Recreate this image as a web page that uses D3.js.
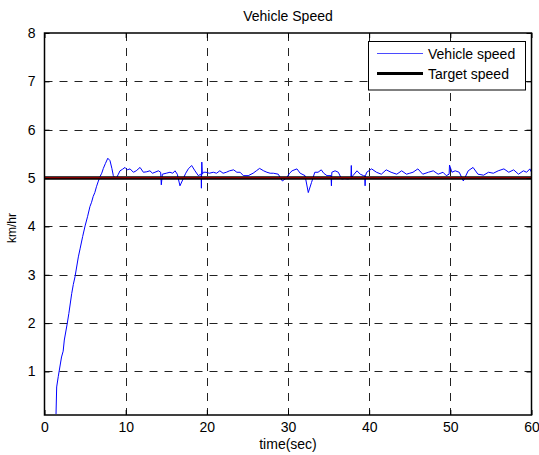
<!DOCTYPE html>
<html>
<head>
<meta charset="utf-8">
<script src="https://cdn.jsdelivr.net/npm/d3@7"></script>
<style>
  body { margin: 0; background: #fff; }
  svg { display: block; font-family: "Liberation Sans", Arial, sans-serif; }
</style>
</head>
<body>
<svg id="chart" width="539" height="455"></svg>
<script>
// ---- Data ----
const timeSec = [1.42,1.5,1.7,1.83,2.1,2.3,2.44,2.8,3.0,3.35,3.55,3.76,4.17,4.4,4.7,5.0,5.3,5.6,5.8,6.0,6.2,6.4,6.6,6.84,7.05,7.25,7.5,7.8,8.07,8.3,8.48,8.7,8.89,9.1,9.3,9.6,9.92,10.2,10.54,10.95,11.3,11.77,12.18,12.6,12.99,13.3,13.61,14.03,14.31,14.39,14.52,15.0,15.46,15.8,16.08,16.36,16.69,17.1,17.4,17.72,18.13,18.54,18.95,19.24,19.3,19.33,19.38,19.45,19.57,19.9,20.3,20.8,21.2,21.6,22.0,22.4,22.8,23.3,23.7,24.1,24.5,25.1,25.7,26.1,26.5,27.0,27.4,27.8,28.2,28.8,29.3,29.8,30.2,30.5,31.1,31.5,32.1,32.5,32.9,33.3,33.7,34.1,34.4,34.8,35.3,35.35,35.4,35.8,36.2,36.6,37.0,37.4,37.75,37.8,37.85,38.0,38.5,38.9,39.3,39.45,39.5,39.55,39.7,40.3,40.9,41.5,42.1,42.7,43.4,44.0,44.6,45.0,45.4,46.0,46.6,47.3,47.9,48.5,49.1,49.5,49.85,49.9,50.2,50.6,51.1,51.6,52.2,52.8,53.4,54.1,54.7,55.3,55.9,56.6,57.2,57.8,58.4,59.0,59.4,59.8,60.0];
const vehicleSpeed = [0.12,0.68,0.9,1.03,1.3,1.42,1.65,1.99,2.2,2.61,2.8,2.96,3.37,3.55,3.79,4.01,4.2,4.41,4.5,4.62,4.7,4.82,4.92,5.03,5.1,5.2,5.3,5.41,5.36,5.2,5.05,5.0,5.01,5.08,5.15,5.18,5.22,5.17,5.19,5.12,5.15,5.22,5.12,5.13,5.15,5.1,5.12,5.15,5.12,4.86,5.08,5.1,5.12,5.1,5.15,5.08,4.84,4.99,5.1,5.19,5.26,5.15,5.05,5.08,5.05,4.79,5.33,5.08,5.12,5.12,5.1,5.12,5.1,5.15,5.1,5.12,5.15,5.17,5.12,5.12,5.05,5.05,5.1,5.15,5.2,5.15,5.12,5.1,5.1,5.08,4.94,5.0,5.1,5.15,5.19,5.1,5.05,4.7,4.91,5.12,5.12,5.17,5.1,5.05,5.05,4.84,5.12,5.15,5.12,4.98,4.99,4.98,5.0,5.26,5.0,5.05,5.15,5.08,5.05,5.05,4.84,5.05,5.12,5.19,5.12,5.08,5.17,5.12,5.08,5.15,5.08,5.1,5.12,5.19,5.08,5.12,5.15,5.08,5.12,5.05,5.08,5.27,5.12,5.15,5.12,4.94,5.15,5.22,5.08,5.06,5.12,5.1,5.15,5.19,5.12,5.17,5.08,5.15,5.12,5.19,5.12,5.1];
const targetTime = [0, 60];
const targetSpeed = [5, 5];
const xTicks = [0, 10, 20, 30, 40, 50, 60];
const yTicks = [1, 2, 3, 4, 5, 6, 7, 8];
const seriesNames = ["Vehicle speed", "Target speed"];
const titleText = "Vehicle Speed";
const xLabelText = "time(sec)";
const yLabelText = "km/hr";

// ---- Layout ----
const svg = d3.select("#chart");
const plot = { left: 44.5, right: 531.5, top: 33, bottom: 415 };
const x = d3.scaleLinear().domain([0, 60]).range([plot.left, plot.right]);
const y = d3.scaleLinear().domain([0.1, 8]).range([plot.bottom, plot.top]);

svg.append("rect").attr("x", 0).attr("y", 0).attr("width", 539).attr("height", 455).attr("fill", "#fff");

// Grid
const grid = svg.append("g").attr("stroke", "#222").attr("stroke-width", 1).attr("stroke-dasharray", "8,7");
grid.selectAll("line.gx").data(xTicks.filter(d => d > 0 && d < 60)).join("line")
  .attr("x1", d => Math.round(x(d)) + 0.5).attr("x2", d => Math.round(x(d)) + 0.5)
  .attr("y1", plot.top).attr("y2", plot.bottom);
grid.selectAll("line.gy").data(yTicks.filter(d => d < 8)).join("line")
  .attr("y1", d => Math.round(y(d)) + 0.5).attr("y2", d => Math.round(y(d)) + 0.5)
  .attr("x1", plot.left).attr("x2", plot.right);

// Clip
svg.append("clipPath").attr("id", "clip").append("rect")
  .attr("x", plot.left).attr("y", plot.top).attr("width", plot.right - plot.left).attr("height", plot.bottom - plot.top);

const line = d3.line().x(d => x(d[0])).y(d => y(d[1]));
const vData = timeSec.map((t, i) => [t, vehicleSpeed[i]]);
const tData = targetTime.map((t, i) => [t, targetSpeed[i]]);

const g = svg.append("g").attr("clip-path", "url(#clip)");
g.append("path").datum(vData).attr("d", line).attr("fill", "none").attr("stroke", "#0000ff").attr("stroke-width", 1);
g.append("path").datum(tData).attr("d", line).attr("fill", "none").attr("stroke", "#000").attr("stroke-width", 3.5);
g.append("path").datum(tData).attr("d", line).attr("fill", "none").attr("stroke", "#8b0000").attr("stroke-width", 1.2)
  .attr("transform", "translate(0,-0.5)");

// Axes (MATLAB box style, inward ticks)
const tickLen = 5;
const xAxisB = d3.axisBottom(x).tickValues(xTicks).tickSizeInner(-tickLen).tickSizeOuter(0).tickPadding(7).tickFormat(d3.format("d"));
const xAxisT = d3.axisTop(x).tickValues(xTicks).tickSizeInner(-tickLen).tickSizeOuter(0).tickFormat("");
const yAxisL = d3.axisLeft(y).tickValues(yTicks).tickSizeInner(-tickLen).tickSizeOuter(0).tickPadding(9).tickFormat(d3.format("d"));
const yAxisR = d3.axisRight(y).tickValues(yTicks).tickSizeInner(-tickLen).tickSizeOuter(0).tickFormat("");

function styleAxis(sel) {
  sel.selectAll("path.domain").remove();
  sel.selectAll(".tick line").attr("stroke", "#000");
  sel.selectAll(".tick text").attr("fill", "#000").style("font-size", "14px").style("font-family", "Liberation Sans, Arial, sans-serif");
}
svg.append("g").attr("transform", `translate(0,${plot.bottom})`).call(xAxisB).call(styleAxis);
svg.append("g").attr("transform", `translate(0,${plot.top})`).call(xAxisT).call(styleAxis);
svg.append("g").attr("transform", `translate(${plot.left},0)`).call(yAxisL).call(styleAxis);
svg.append("g").attr("transform", `translate(${plot.right},0)`).call(yAxisR).call(styleAxis);

svg.append("rect").attr("x", plot.left).attr("y", plot.top)
  .attr("width", plot.right - plot.left).attr("height", plot.bottom - plot.top)
  .attr("fill", "none").attr("stroke", "#000").attr("stroke-width", 1.5);

// Titles
svg.append("text").attr("x", (plot.left + plot.right) / 2).attr("y", 20.5).attr("text-anchor", "middle")
  .style("font-size", "14px").text(titleText);
svg.append("text").attr("x", (plot.left + plot.right) / 2).attr("y", 449).attr("text-anchor", "middle")
  .style("font-size", "14px").text(xLabelText);
svg.append("text").attr("transform", `translate(16,${(plot.top + plot.bottom) / 2 + 4}) rotate(-90)`).attr("text-anchor", "middle")
  .style("font-size", "12px").text(yLabelText);

// Legend
const leg = svg.append("g");
leg.append("rect").attr("x", 368.5).attr("y", 41.5).attr("width", 157).attr("height", 48.5)
  .attr("fill", "#fff").attr("stroke", "#000").attr("stroke-width", 1);
const legColors = ["#0000ff", "#000"];
const legWidths = [1, 3];
const legY = [53.5, 73.5];
seriesNames.forEach((name, i) => {
  leg.append("line").attr("x1", 377).attr("x2", 423).attr("y1", legY[i]).attr("y2", legY[i])
    .attr("stroke", legColors[i]).attr("stroke-width", legWidths[i]).attr("opacity", i === 0 ? 0.7 : 1);
  leg.append("text").attr("x", 428).attr("y", legY[i] + 5).style("font-size", "14px").text(name);
});
</script>
</body>
</html>
